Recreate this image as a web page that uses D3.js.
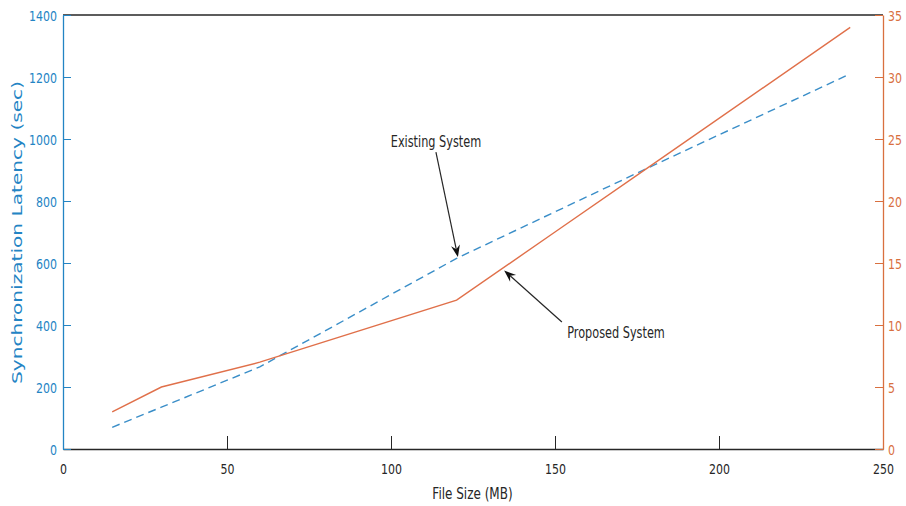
<!DOCTYPE html>
<html>
<head>
<meta charset="utf-8">
<script src="https://cdn.jsdelivr.net/npm/d3@7"></script>
<style>
  html, body { margin: 0; padding: 0; background: #fff; }
  svg { display: block; }
  text { font-family: "DejaVu Sans", sans-serif; }
</style>
</head>
<body>
<svg id="chart" width="906" height="506"></svg>
<script>
// File sizes tested (MB)
const fileSize = [15, 30, 60, 120, 150, 180, 240];
// Synchronization latency of the existing system (sec, left axis)
const existingLatency = [70, 135, 265, 615, 765, 915, 1210];
// Synchronization latency of the proposed system (sec, right axis)
const proposedLatency = [3, 5, 7, 12, 17.5, 23, 34];

const xTicks = [0, 50, 100, 150, 200, 250];
const leftTicks = [0, 200, 400, 600, 800, 1000, 1200, 1400];
const rightTicks = [0, 5, 10, 15, 20, 25, 30, 35];

// Annotation anchors in data units
const existingNote = { text: "Existing System", label: [113.7, 974], from: [113.7, 958], to: [120.4, 619] };
const proposedNote = { text: "Proposed System", label: [168.6, 8.95], from: [152.1, 10.24], to: [134.5, 14.4] };

const blue = "#2384c4";
const blueLine = "#3a8ec8";
const orange = "#d9703f";
const orangeLine = "#e0704a";
const ink = "#262626";
const stretch = 1.35;   // vertical stretch of horizontal lettering

const svg = d3.select("#chart");
const plotLeft = 63, plotRight = 883, plotTop = 15, plotBottom = 449;

const x = d3.scaleLinear().domain([0, 250]).range([plotLeft, plotRight]);
const yL = d3.scaleLinear().domain([0, 1400]).range([plotBottom, plotTop]);
const yR = d3.scaleLinear().domain([0, 35]).range([plotBottom, plotTop]);

// Top frame line
svg.append("line")
  .attr("x1", plotLeft).attr("x2", plotRight).attr("y1", plotTop).attr("y2", plotTop)
  .attr("stroke", ink).attr("stroke-width", 1.3);

// Bottom axis
const gx = svg.append("g").attr("transform", `translate(0,${plotBottom})`)
  .call(d3.axisBottom(x).tickValues(xTicks).tickFormat(d3.format("d")).tickSizeInner(-13).tickSizeOuter(0));
gx.select(".domain").attr("stroke", ink).attr("stroke-width", 1.3);
gx.selectAll(".tick line").attr("stroke", ink).attr("stroke-width", 1);
gx.selectAll(".tick text")
  .attr("fill", ink).attr("font-size", 11)
  .attr("y", 25 / stretch).attr("dy", 0)
  .attr("transform", `scale(1,${stretch})`);

// Left axis
const gl = svg.append("g").attr("transform", `translate(${plotLeft},0)`)
  .call(d3.axisLeft(yL).tickValues(leftTicks).tickFormat(d3.format("d")).tickSizeInner(-8).tickSizeOuter(0));
gl.select(".domain").attr("stroke", blue).attr("stroke-width", 1.3);
gl.selectAll(".tick line").attr("stroke", blue);
gl.selectAll(".tick text")
  .attr("fill", blue).attr("font-size", 11)
  .attr("x", -6).attr("dy", "0.34em")
  .attr("transform", `scale(1,${stretch})`);

// Right axis
const gr = svg.append("g").attr("transform", `translate(${plotRight},0)`)
  .call(d3.axisRight(yR).tickValues(rightTicks).tickFormat(d3.format("d")).tickSizeInner(-8).tickSizeOuter(0));
gr.select(".domain").attr("stroke", orange).attr("stroke-width", 1.3);
gr.selectAll(".tick line").attr("stroke", orange);
gr.selectAll(".tick text")
  .attr("fill", orange).attr("font-size", 11)
  .attr("x", 5).attr("dy", "0.34em")
  .attr("transform", `scale(1,${stretch})`);

// Axis titles
svg.append("text")
  .attr("transform", `translate(${(plotLeft + plotRight) / 2 - 0.5},499) scale(1,${stretch})`)
  .attr("text-anchor", "middle").attr("font-size", 12).attr("fill", ink)
  .text("File Size (MB)");

svg.append("text")
  .attr("transform", `translate(22,${(plotTop + plotBottom) / 2 + 0.5}) rotate(-90)`)
  .attr("text-anchor", "middle").attr("font-size", 14.5).attr("fill", blue)
  .attr("textLength", 303).attr("lengthAdjust", "spacingAndGlyphs")
  .text("Synchronization Latency (sec)");

// Series
const lineL = d3.line().x((d, i) => x(fileSize[i])).y(d => yL(d));
const lineR = d3.line().x((d, i) => x(fileSize[i])).y(d => yR(d));

svg.append("path").datum(existingLatency)
  .attr("d", lineL).attr("fill", "none")
  .attr("stroke", blueLine).attr("stroke-width", 1.4)
  .attr("stroke-dasharray", "8,5");

svg.append("path").datum(proposedLatency)
  .attr("d", lineR).attr("fill", "none")
  .attr("stroke", orangeLine).attr("stroke-width", 1.4);

// Annotations with arrows
function arrow(p0, p1) {
  const dx = p1[0] - p0[0], dy = p1[1] - p0[1];
  const len = Math.hypot(dx, dy), ux = dx / len, uy = dy / len;
  const headLen = 12, notch = 8, half = 4.5;
  const bx = p1[0] - ux * headLen, by = p1[1] - uy * headLen;
  const nx = p1[0] - ux * notch, ny = p1[1] - uy * notch;
  svg.append("line")
    .attr("x1", p0[0]).attr("y1", p0[1]).attr("x2", nx).attr("y2", ny)
    .attr("stroke", ink).attr("stroke-width", 1.2);
  svg.append("path")
    .attr("d", `M${p1[0]},${p1[1]}L${bx - uy * half},${by + ux * half}L${nx},${ny}L${bx + uy * half},${by - ux * half}Z`)
    .attr("fill", "#111");
}

function note(n, yScale) {
  const lp = [x(n.label[0]), yScale(n.label[1])];
  svg.append("text")
    .attr("transform", `translate(${lp[0]},${lp[1]}) scale(1,${stretch})`)
    .attr("text-anchor", "middle").attr("font-size", 11.3).attr("fill", ink)
    .text(n.text);
  arrow([x(n.from[0]), yScale(n.from[1])], [x(n.to[0]), yScale(n.to[1])]);
}

note(existingNote, yL);
note(proposedNote, yR);
</script>
</body>
</html>
